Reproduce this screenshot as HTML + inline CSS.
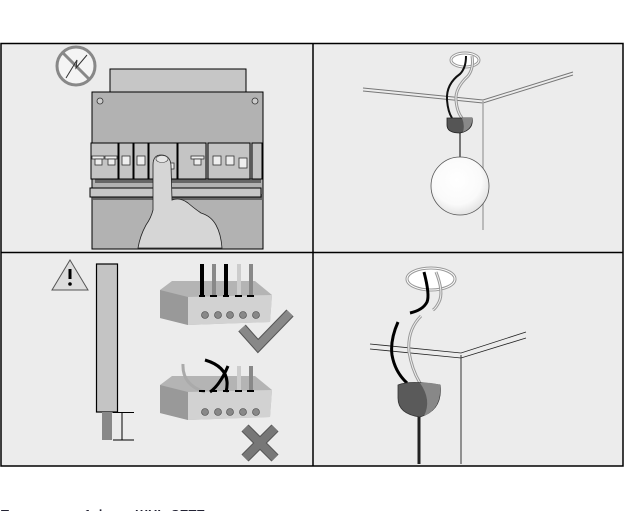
<!DOCTYPE html>
<html><head><meta charset="utf-8"><style>
html,body{margin:0;padding:0;background:#fff;width:625px;height:511px;overflow:hidden}
svg{display:block}
</style></head><body>
<svg width="625" height="511" viewBox="0 0 625 511" xmlns="http://www.w3.org/2000/svg">
<defs>
<radialGradient id="g" cx="0.45" cy="0.4" r="0.6"><stop offset="0" stop-color="#fff"/><stop offset="0.7" stop-color="#fafafa"/><stop offset="1" stop-color="#e4e4e4"/></radialGradient>
</defs>
<rect x="1" y="43.5" width="622" height="422.5" fill="#ececec" stroke="#000" stroke-width="1.5"/>
<line x1="313" y1="43.5" x2="313" y2="466" stroke="#000" stroke-width="1.5"/>
<line x1="1" y1="252.5" x2="623" y2="252.5" stroke="#000" stroke-width="1.5"/>

<!-- Panel 1 -->
<circle cx="76" cy="66" r="19" fill="#f4f4f4" stroke="#888" stroke-width="3"/>
<line x1="63" y1="53" x2="89" y2="79" stroke="#888" stroke-width="3"/>
<polyline points="66,78 77,60 76,68 87,55" fill="none" stroke="#333" stroke-width="1"/>
<rect x="110" y="69" width="136" height="24" fill="#c6c6c6" stroke="#000" stroke-width="1"/>
<rect x="92" y="92" width="171" height="157" fill="#b2b2b2" stroke="#000" stroke-width="1"/>
<circle cx="100" cy="101" r="3" fill="#ccc" stroke="#333" stroke-width="0.8"/>
<circle cx="255" cy="101" r="3" fill="#ccc" stroke="#333" stroke-width="0.8"/>
<rect x="95" y="178" width="166" height="5" fill="#666"/>
<g fill="#c4c4c4" stroke="#000" stroke-width="1">
<rect x="91" y="143" width="27" height="36"/>
<rect x="119" y="143" width="14" height="36"/>
<rect x="134" y="143" width="14" height="36"/>
<rect x="149" y="143" width="28" height="36"/>
<rect x="178" y="143" width="28" height="36"/>
<rect x="208" y="143" width="42" height="36"/>
<rect x="252" y="143" width="10" height="36"/>
</g>
<g fill="#eee" stroke="#333" stroke-width="0.8">
<rect x="92" y="156" width="12" height="3"/><rect x="105" y="156" width="12" height="3"/>
<rect x="95" y="159" width="7" height="6"/><rect x="108" y="159" width="7" height="6"/>
<rect x="122" y="156" width="8" height="9"/><rect x="137" y="156" width="8" height="9"/>
<rect x="191" y="156" width="13" height="3"/><rect x="194" y="159" width="7" height="6"/>
<rect x="213" y="156" width="8" height="9"/><rect x="226" y="156" width="8" height="9"/>
<rect x="239" y="158" width="8" height="10"/>
<rect x="169" y="163" width="5" height="6"/>
</g>
<rect x="93" y="194" width="170" height="6" fill="#666"/>
<rect x="90" y="188" width="171" height="9" fill="#c6c6c6" stroke="#000" stroke-width="1"/>
<path d="M153,165 Q153,155 161,155 Q170,155 171,165 L172,200 Q180,197 188,203 Q195,209 201,213 Q211,216 216,225 Q221,234 222,248 L138,248 Q140,236 146,225 Q151,218 153,210 Z" fill="#d6d6d6" stroke="#222" stroke-width="0.8"/>
<ellipse cx="162" cy="159" rx="6" ry="3.5" fill="#e6e6e6" stroke="#444" stroke-width="0.6"/>

<!-- Panel 2 -->
<ellipse cx="465" cy="60" rx="14" ry="7" fill="#fff" stroke="#999" stroke-width="3"/>
<ellipse cx="465" cy="60" rx="14" ry="7" fill="none" stroke="#fff" stroke-width="1"/>
<path d="M363,88 L483,100 L573,72" fill="none" stroke="#777" stroke-width="1"/>
<path d="M363,91 L483,103 L573,75" fill="none" stroke="#777" stroke-width="1"/>
<line x1="483" y1="101" x2="483" y2="230" stroke="#aaa" stroke-width="1.5"/>
<path d="M466,56 Q466,68 460,74 Q446,84 447,100 Q448,112 452,118" fill="none" stroke="#111" stroke-width="2"/>
<path d="M472,56 Q474,68 468,76 Q455,88 456,100 Q457,112 462,118" fill="none" stroke="#999" stroke-width="3"/>
<path d="M472,56 Q474,68 468,76 Q455,88 456,100 Q457,112 462,118" fill="none" stroke="#eee" stroke-width="1"/>
<path d="M447,118 L472,118 Q474,130 460,133 Q447,133 447,125 Z" fill="#555" stroke="#222" stroke-width="0.8"/>
<path d="M462,118 L472,118 Q473,128 463,132 Q465,125 462,118Z" fill="#888"/>
<line x1="460" y1="133" x2="460" y2="160" stroke="#000" stroke-width="1"/>
<circle cx="460" cy="186" r="29" fill="url(#g)" stroke="#555" stroke-width="0.8"/>

<!-- Panel 3 -->
<polygon points="70,260 88,290 52,290" fill="#ddd" stroke="#555" stroke-width="1"/>
<rect x="68.5" y="269" width="3" height="10" fill="#000"/><circle cx="70" cy="284" r="1.8" fill="#000"/>
<rect x="96.5" y="264" width="21" height="148" fill="#c4c4c4" stroke="#000" stroke-width="1.2"/>
<rect x="102" y="412" width="10" height="28" fill="#888"/>
<path d="M113,412.5 H134 M113,440 H134 M122,412 V440" stroke="#000" stroke-width="1" fill="none"/>
<g id="blk">
<polygon points="160,290 172,281 255,281 272,295 270,322 188,325 160,318" fill="#b4b4b4"/>
<polygon points="188,297 272,295 270,322 188,325" fill="#d2d2d2"/>
<polygon points="160,290 188,297 188,325 160,318" fill="#999"/>
</g>
<rect x="200" y="264" width="4" height="33" fill="#000"/>
<rect x="212" y="264" width="4" height="33" fill="#888"/>
<rect x="224" y="264" width="4" height="33" fill="#000"/>
<rect x="237" y="264" width="4" height="33" fill="#ccc"/>
<rect x="249" y="264" width="4" height="33" fill="#888"/>
<path d="M199,296 h6 M210,296 h7 M223,296 h6 M235,296 h7 M247,296 h7" stroke="#000" stroke-width="2"/>
<g fill="#888" stroke="#444" stroke-width="0.6">
<circle cx="205" cy="315" r="3.5"/><circle cx="218" cy="315" r="3.5"/><circle cx="230" cy="315" r="3.5"/><circle cx="243" cy="315" r="3.5"/><circle cx="256" cy="315" r="3.5"/>
</g>
<polyline points="242,328 258,346 290,313" fill="none" stroke="#555" stroke-width="10"/>
<polyline points="242,328 258,346 290,313" fill="none" stroke="#888" stroke-width="8"/>
<use href="#blk" transform="translate(0,95)"/>
<path d="M183,364 Q182,385 205,392" fill="none" stroke="#aaa" stroke-width="3"/>
<path d="M205,360 Q232,368 226,392 M228,366 Q220,385 210,392" fill="none" stroke="#000" stroke-width="3"/>
<rect x="237" y="366" width="4" height="26" fill="#ccc"/>
<rect x="249" y="366" width="4" height="26" fill="#888"/>
<path d="M199,391 h6 M210,391 h7 M223,391 h6 M235,391 h7 M247,391 h7" stroke="#000" stroke-width="2"/>
<g fill="#888" stroke="#444" stroke-width="0.6">
<circle cx="205" cy="412" r="3.5"/><circle cx="218" cy="412" r="3.5"/><circle cx="230" cy="412" r="3.5"/><circle cx="243" cy="412" r="3.5"/><circle cx="256" cy="412" r="3.5"/>
</g>
<path d="M245,428 L275,458 M275,428 L245,458" stroke="#555" stroke-width="10"/>
<path d="M245,428 L275,458 M275,428 L245,458" stroke="#777" stroke-width="8"/>

<!-- Panel 4 -->
<ellipse cx="431" cy="279" rx="24" ry="11" fill="#fff" stroke="#999" stroke-width="3"/>
<ellipse cx="431" cy="279" rx="24" ry="11" fill="none" stroke="#fff" stroke-width="1"/>
<path d="M370,344 L461,353 L526,332" fill="none" stroke="#222" stroke-width="0.8"/>
<path d="M370,349 L461,358 L526,338" fill="none" stroke="#222" stroke-width="0.8"/>
<line x1="461" y1="355" x2="461" y2="464" stroke="#333" stroke-width="1"/>
<path d="M424,272 Q430,295 427,302 Q423,310 410,313" fill="none" stroke="#000" stroke-width="3"/>
<path d="M398,322 Q390,340 392,355 Q395,372 407,383" fill="none" stroke="#000" stroke-width="3"/>
<path d="M436,272 Q444,292 439,302 Q436,308 433,310" fill="none" stroke="#999" stroke-width="3"/>
<path d="M436,272 Q444,292 439,302 Q436,308 433,310" fill="none" stroke="#eee" stroke-width="1"/>
<path d="M421,316 Q407,330 409,352 Q412,370 420,383" fill="none" stroke="#999" stroke-width="3"/>
<path d="M421,316 Q407,330 409,352 Q412,370 420,383" fill="none" stroke="#eee" stroke-width="1"/>
<path d="M398,385 Q410,380 440,385 Q443,410 420,417 Q398,414 398,398 Z" fill="#5a5a5a" stroke="#333" stroke-width="0.8"/>
<path d="M420,383 Q432,382 440,385 Q442,408 424,416 Q432,400 420,383Z" fill="#888"/>
<line x1="419" y1="417" x2="419" y2="464" stroke="#222" stroke-width="3"/>

<text x="1" y="519" font-family="Liberation Sans, sans-serif" font-size="13" font-weight="bold" fill="#223">Термо  защ и  1 ф  зна  ШНЬ СЕТЕ</text>
</svg>
</body></html>
